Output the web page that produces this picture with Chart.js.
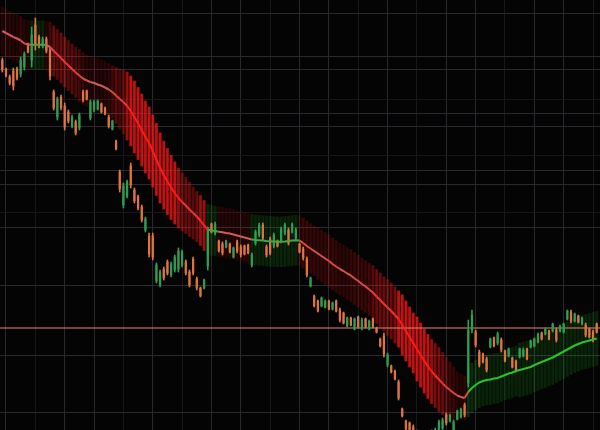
<!DOCTYPE html>
<html>
<head>
<meta charset="utf-8">
<script src="https://cdn.jsdelivr.net/npm/chart.js@4.4.1/dist/chart.umd.min.js"></script>
<style>
  html, body { margin: 0; padding: 0; background: #040404; }
  #grafico { display: block; }
</style>
</head>
<body>
<canvas id="grafico" width="600" height="430"></canvas>
<script>
// Velas (precio), una por periodo
const apertura = [
  137.0, 136.1, 135.3, 135.9, 136.1, 135.6, 136.3, 138.6, 137.0, 140.5,
  139.3, 138.4, 139.1, 138.0, 133.8, 131.3, 133.3, 132.4, 131.8, 130.4,
  130.8, 130.2, 133.8, 133.9, 131.2, 132.0, 132.1, 132.6, 132.2, 131.3,
  130.1, 128.9, 125.8, 122.5, 123.4, 126.4, 124.0, 123.3, 122.3, 120.0,
  119.4, 119.4, 114.9, 114.5, 116.1, 116.8, 115.5, 116.0, 116.1, 116.5,
  116.8, 115.8, 117.1, 115.1, 114.2, 114.2, 116.4, 120.6, 119.7, 118.9,
  118.6, 118.3, 118.6, 117.3, 118.8, 118.3, 118.4, 118.5, 116.5, 118.7,
  119.5, 120.5, 118.3, 119.1, 118.4, 118.9, 118.9, 119.7, 120.0, 119.8,
  119.2, 118.6, 118.1, 117.1, 114.4, 113.4, 112.9, 112.4, 112.3, 112.9,
  112.1, 112.9, 112.0, 111.7, 110.4, 111.2, 110.1, 111.3, 110.2, 111.1,
  110.1, 111.1, 110.2, 109.1, 109.4, 106.5, 106.4, 105.9, 104.8, 102.1,
  100.9, 100.7, 100.3, 99.8, 98.4, 99.3, 98.4, 99.8, 99.0, 99.7,
  100.2, 101.5, 100.9, 100.0, 101.1, 101.3, 102.5, 104.7, 110.0, 109.8,
  107.8, 107.6, 107.1, 108.3, 109.2, 108.7, 109.0, 107.9, 107.4, 107.2,
  106.9, 107.3, 107.4, 108.1, 108.3, 108.4, 108.8, 109.7, 109.6, 109.9,
  109.9, 110.0, 109.9, 109.8, 111.1, 111.8, 110.9, 111.4, 110.6, 110.5,
  110.1, 109.8, 110.6
];
const maximo = [
  137.2, 136.2, 135.5, 136.2, 136.3, 137.3, 137.8, 138.7, 140.3, 141.2,
  139.5, 139.3, 139.3, 138.3, 134.0, 133.3, 133.5, 132.7, 132.0, 131.5,
  131.0, 131.7, 134.0, 134.0, 133.0, 133.0, 133.0, 132.7, 132.3, 131.5,
  131.0, 129.0, 126.0, 124.7, 125.0, 126.7, 124.2, 123.5, 122.5, 121.3,
  119.7, 119.7, 116.7, 116.0, 116.3, 117.0, 116.8, 117.5, 118.2, 118.0,
  117.0, 116.0, 117.3, 115.3, 114.3, 115.1, 120.3, 120.7, 120.8, 119.0,
  118.8, 119.0, 118.7, 118.3, 119.0, 118.5, 118.5, 118.6, 117.7, 120.0,
  120.7, 120.7, 118.5, 119.3, 119.7, 119.0, 120.3, 120.7, 120.2, 120.7,
  120.2, 118.7, 118.3, 117.3, 115.3, 113.5, 113.0, 113.3, 113.0, 113.0,
  112.8, 113.0, 112.2, 111.8, 111.3, 111.3, 111.2, 111.4, 111.2, 111.2,
  111.0, 111.2, 110.3, 109.2, 109.7, 107.7, 106.5, 106.0, 105.0, 102.2,
  101.0, 100.8, 100.5, 100.0, 99.8, 99.5, 99.7, 100.0, 100.2, 101.0,
  101.2, 101.7, 101.6, 101.0, 102.0, 102.2, 102.7, 111.0, 112.0, 110.0,
  108.0, 107.7, 107.3, 109.2, 109.3, 109.8, 109.2, 108.0, 108.2, 107.3,
  107.0, 108.2, 108.2, 108.2, 109.0, 109.2, 109.7, 109.8, 110.2, 110.0,
  110.7, 110.2, 110.5, 110.7, 112.0, 112.0, 111.7, 111.5, 111.3, 110.7,
  110.2, 110.0, 110.7
];
const minimo = [
  135.8, 135.3, 134.5, 134.0, 135.0, 135.3, 136.0, 137.7, 136.3, 138.0,
  138.2, 138.2, 137.7, 135.0, 132.0, 131.0, 132.0, 130.0, 130.7, 130.2,
  129.5, 130.0, 132.8, 133.0, 131.0, 131.8, 132.0, 131.7, 131.5, 130.2,
  130.0, 128.0, 123.8, 122.2, 123.2, 124.2, 122.7, 122.0, 120.8, 119.8,
  117.3, 117.0, 114.7, 114.3, 115.0, 115.5, 115.3, 115.8, 115.8, 116.3,
  115.5, 114.3, 115.5, 114.0, 113.3, 114.1, 116.0, 119.7, 119.5, 117.8,
  117.5, 118.2, 117.7, 117.2, 117.7, 117.3, 117.5, 117.6, 116.3, 118.5,
  119.3, 119.0, 117.3, 117.5, 118.2, 118.3, 118.7, 119.5, 118.5, 119.7,
  119.0, 117.7, 117.0, 115.3, 114.3, 112.3, 111.8, 112.3, 112.2, 112.0,
  112.0, 111.8, 110.8, 110.6, 110.3, 110.4, 110.0, 110.2, 110.0, 110.2,
  110.0, 110.2, 109.7, 108.3, 107.3, 106.3, 105.7, 105.0, 103.0, 101.3,
  100.0, 99.8, 99.2, 98.5, 98.2, 98.0, 98.2, 98.5, 98.8, 99.5,
  100.0, 100.5, 100.8, 99.8, 101.0, 101.2, 101.3, 104.3, 109.7, 108.3,
  106.3, 106.7, 105.8, 108.2, 108.3, 108.5, 107.8, 106.8, 107.3, 106.2,
  105.8, 107.2, 107.3, 107.0, 108.2, 108.3, 108.7, 109.0, 109.5, 109.0,
  109.8, 108.8, 109.8, 109.7, 111.0, 110.7, 110.8, 110.7, 110.5, 109.3,
  109.2, 108.8, 109.7
];
const cierre = [
  136.0, 135.4, 134.7, 134.4, 135.2, 137.0, 137.6, 137.8, 139.5, 138.5,
  138.4, 139.1, 137.9, 135.4, 132.2, 133.1, 132.2, 130.3, 130.9, 131.3,
  129.7, 131.5, 133.0, 133.1, 132.8, 132.8, 132.9, 131.8, 131.6, 130.4,
  130.9, 128.1, 124.1, 124.4, 124.8, 124.5, 122.9, 122.2, 121.0, 121.1,
  117.6, 117.3, 116.5, 115.8, 115.2, 115.7, 116.6, 117.3, 117.9, 117.8,
  115.7, 114.5, 115.7, 114.2, 113.4, 115.0, 120.2, 119.8, 120.6, 117.9,
  117.7, 118.9, 117.8, 118.2, 117.9, 117.5, 117.6, 117.7, 117.5, 119.8,
  120.5, 119.2, 117.5, 117.7, 119.5, 118.4, 120.1, 120.5, 118.7, 120.6,
  120.0, 117.8, 117.2, 115.5, 115.2, 112.4, 111.9, 113.2, 112.9, 112.1,
  112.7, 111.9, 111.0, 110.7, 111.2, 110.5, 111.1, 110.3, 111.0, 110.3,
  110.9, 110.3, 109.8, 108.4, 107.6, 107.5, 105.8, 105.1, 103.2, 101.4,
  100.1, 99.9, 99.4, 98.7, 99.6, 98.2, 99.5, 98.7, 100.0, 100.8,
  101.0, 100.7, 101.5, 100.8, 101.9, 102.1, 101.5, 110.0, 111.5, 108.5,
  106.5, 106.8, 106.0, 109.1, 108.4, 109.6, 108.0, 106.9, 108.1, 106.3,
  105.9, 108.1, 108.0, 107.1, 108.9, 109.1, 109.6, 109.1, 110.1, 109.1,
  110.6, 109.0, 110.4, 110.6, 111.9, 110.9, 111.6, 110.8, 111.2, 109.5,
  109.3, 109.0, 109.8
];

// Media movil y semiancho de la banda
const media = [
  139.90, 139.70, 139.50, 139.30, 139.15, 138.95, 138.65, 138.55, 138.53, 138.52,
  138.52, 138.52, 138.50, 138.30, 137.90, 137.55, 137.20, 136.80, 136.45, 136.10,
  135.75, 135.45, 135.15, 134.95, 134.80, 134.70, 134.55, 134.43, 134.25, 134.05,
  133.80, 133.45, 133.10, 132.80, 132.40, 131.90, 131.30, 130.65, 130.00, 129.30,
  128.70, 127.90, 127.05, 126.20, 125.50, 124.85, 124.25, 123.70, 123.20, 122.80,
  122.45, 122.05, 121.70, 121.35, 120.95, 120.45, 120.05, 119.95, 119.90, 119.83,
  119.77, 119.70, 119.65, 119.55, 119.45, 119.35, 119.25, 119.15, 119.05, 119.00,
  118.97, 118.94, 118.90, 118.87, 118.85, 118.82, 118.82, 118.85, 118.90, 118.95,
  118.98, 118.95, 118.70, 118.40, 118.15, 117.90, 117.65, 117.40, 117.15, 116.90,
  116.60, 116.35, 116.10, 115.90, 115.65, 115.45, 115.15, 114.90, 114.60, 114.35,
  114.05, 113.75, 113.35, 113.00, 112.60, 112.25, 111.90, 111.50, 111.10, 110.50,
  109.90, 109.30, 108.70, 108.10, 107.50, 106.90, 106.35, 105.85, 105.45, 105.05,
  104.65, 104.30, 104.00, 103.70, 103.45, 103.30, 103.20, 103.80, 104.20, 104.50,
  104.75, 104.90, 105.00, 105.05, 105.15, 105.20, 105.35, 105.50, 105.65, 105.75,
  105.90, 106.00, 106.10, 106.20, 106.30, 106.50, 106.65, 106.80, 106.95, 107.10,
  107.25, 107.45, 107.65, 107.85, 108.05, 108.25, 108.45, 108.60, 108.75, 108.85,
  108.95, 109.05, 109.15
];
const anchoBanda = [
  2.4, 2.4, 2.4, 2.4, 2.4, 2.4, 2.4, 2.4, 2.4, 2.4,
  2.4, 2.4, 2.4, 2.5, 2.5, 2.5, 2.5, 2.5, 2.5, 2.5,
  2.5, 2.6, 2.6, 2.6, 2.6, 2.6, 2.6, 2.6, 2.6, 2.6,
  2.6, 2.8, 3.0, 3.2, 3.4, 3.5, 3.6, 3.6, 3.6, 3.6,
  3.6, 3.6, 3.6, 3.5, 3.4, 3.3, 3.2, 3.1, 3.0, 2.9,
  2.8, 2.7, 2.6, 2.5, 2.5, 2.5, 2.5, 2.5, 2.5, 2.5,
  2.5, 2.5, 2.5, 2.5, 2.5, 2.5, 2.5, 2.5, 2.5, 2.5,
  2.5, 2.5, 2.5, 2.5, 2.5, 2.5, 2.5, 2.5, 2.5, 2.5,
  2.5, 2.5, 2.5, 2.5, 2.5, 2.5, 2.6, 2.6, 2.6, 2.6,
  2.6, 2.6, 2.6, 2.6, 2.6, 2.6, 2.6, 2.6, 2.6, 2.6,
  2.6, 2.7, 2.7, 2.7, 2.7, 2.8, 2.8, 2.8, 2.8, 3.0,
  3.0, 3.0, 3.0, 3.2, 3.2, 3.2, 3.2, 3.2, 3.2, 3.2,
  3.1, 3.0, 2.8, 2.6, 2.4, 2.3, 2.2, 2.5, 2.5, 2.5,
  2.5, 2.5, 2.5, 2.5, 2.5, 2.5, 2.5, 2.5, 2.5, 2.5,
  2.5, 2.7, 2.7, 2.7, 2.7, 2.7, 2.7, 2.7, 2.7, 2.7,
  2.7, 2.7, 2.7, 2.7, 2.7, 2.7, 2.7, 2.7, 2.7, 2.7,
  2.7, 2.7, 2.7
];

// Tramos (indices de vela) en que el indicador marca alcista
const tramosAlcistas = [[8, 11], [56, 58], [68, 80], [127, 162]];

// Nivel horizontal
const nivel = 110.2;

// Rejilla
const lineasX = [1, 17, 25, 41, 57, 65, 81, 89, 105, 121, 129, 145, 153];
const lineasXSuaves = [9, 33, 49, 73, 97, 113, 137, 161];
const lineasY = [141.7, 137.3, 136.0, 131.7, 130.3, 126.0, 124.6, 120.2, 114.5, 107.5, 101.8];
const lineasYSuaves = [133.1, 127.4, 121.7];

const X_MIN = -0.635, X_MAX = 162.9;
const Y_MIN = 100, Y_MAX = 143;

function esAlcista(i) {
  return tramosAlcistas.some(([a, b]) => i >= a && i <= b);
}

// pendiente de la media (0..1): cuanto cae por vela
function fuerza(i) {
  const a = media[Math.max(i - 1, 0)];
  const b = media[Math.min(i + 1, media.length - 1)];
  const caida = Math.abs(a - b) / 2;
  return Math.max(0, Math.min((caida - 0.15) / 0.35, 1));
}

function colorFranja(i) {
  const t = fuerza(i);
  if (esAlcista(i)) return 'rgba(40,190,40,' + (0.12 + 0.08 * t).toFixed(3) + ')';
  return 'rgba(255,25,25,' + (0.09 + 0.62 * t * t).toFixed(3) + ')';
}

function colorFondo(i) {
  const t = fuerza(i);
  if (esAlcista(i)) return 'rgba(40,190,40,0.05)';
  return 'rgba(255,25,25,' + (0.04 + 0.08 * t * t).toFixed(3) + ')';
}

function colorLinea(i) {
  if (esAlcista(i)) return i > 120 ? '#2cc02c' : '#43a843';
  const t = Math.pow(fuerza(i), 1.2);
  const r = Math.round(200 + 55 * t), g = Math.round(95 - 70 * t), b = Math.round(90 - 65 * t);
  return 'rgb(' + r + ',' + g + ',' + b + ')';
}

function inicializarGrafico() {
  const canvas = document.getElementById('grafico');
  const indices = cierre.map((c, i) => i);

  const colorVela = indices.map(i => cierre[i] >= apertura[i] ? '#2e9e52' : '#de7440');
  const banda = indices.map(i => ({ x: i, y: [media[i] - anchoBanda[i], media[i] + anchoBanda[i]] }));
  const mechas = indices.map(i => ({ x: i, y: [minimo[i], maximo[i]] }));
  const cuerpos = indices.map(i => ({ x: i, y: [Math.min(apertura[i], cierre[i]), Math.max(apertura[i], cierre[i])] }));
  const lineaMedia = indices.map(i => ({ x: i, y: media[i] }));

  new Chart(canvas, {
    type: 'bar',
    data: {
      datasets: [
        {
          type: 'line',
          data: lineaMedia,
          borderWidth: 2,
          pointRadius: 0,
          tension: 0,
          borderColor: '#d06060',
          segment: { borderColor: ctx => colorLinea(ctx.p0DataIndex) },
          order: 0
        },
        {
          data: cuerpos,
          backgroundColor: colorVela,
          barThickness: 1.6,
          grouped: false,
          order: 1
        },
        {
          data: mechas,
          backgroundColor: colorVela,
          barThickness: 1,
          grouped: false,
          order: 2
        },
        {
          type: 'line',
          data: [{ x: X_MIN, y: nivel }, { x: X_MAX, y: nivel }],
          borderColor: '#e8866a',
          borderWidth: 1,
          pointRadius: 0,
          order: 3
        },
        {
          data: banda,
          backgroundColor: indices.map(colorFranja),
          barThickness: 2,
          grouped: false,
          order: 4
        },
        {
          data: banda,
          backgroundColor: indices.map(colorFondo),
          barThickness: 3.7,
          grouped: false,
          order: 5
        }
      ]
    },
    options: {
      responsive: false,
      animation: false,
      events: [],
      layout: { padding: 0 },
      plugins: { legend: { display: false }, tooltip: { enabled: false } },
      scales: {
        x: {
          type: 'linear',
          min: X_MIN,
          max: X_MAX,
          offset: false,
          ticks: { display: false },
          border: { display: false },
          grid: {
            offset: false,
            drawTicks: false,
            color: ctx => lineasXSuaves.includes(ctx.tick.value) ? '#17171a' : '#28282d'
          },
          afterBuildTicks: s => { s.ticks = lineasX.concat(lineasXSuaves).map(v => ({ value: v })); }
        },
        y: {
          min: Y_MIN,
          max: Y_MAX,
          ticks: { display: false },
          border: { display: false },
          grid: {
            drawTicks: false,
            color: ctx => lineasYSuaves.includes(ctx.tick.value) ? '#17171a' : '#2a2a2e'
          },
          afterBuildTicks: s => { s.ticks = lineasY.concat(lineasYSuaves).map(v => ({ value: v })); }
        }
      }
    }
  });
}

window.addEventListener('DOMContentLoaded', inicializarGrafico);
</script>
</body>
</html>
